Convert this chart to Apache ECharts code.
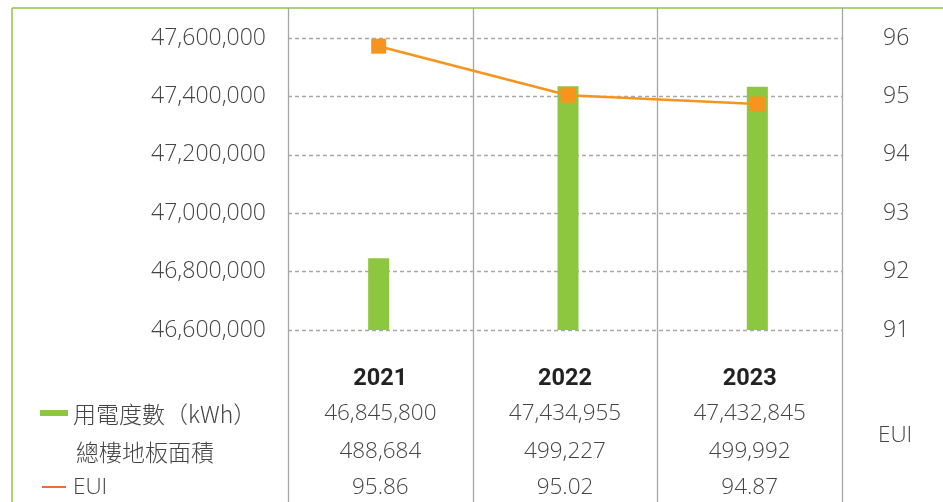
<!DOCTYPE html>
<html>
<head>
<meta charset="utf-8">
<script src="https://cdn.jsdelivr.net/npm/echarts@6/dist/echarts.min.js"></script>
<style>
  html, body { margin: 0; padding: 0; background: #fff; }
  #chart { width: 943px; height: 502px; }
</style>
</head>
<body>
<div id="chart"></div>
<script>
// Annual electricity use, floor area and EUI
const years = ['2021', '2022', '2023'];
const electricity = [46845800, 47434955, 47432845];   // kWh
const floorArea = [488684, 499227, 499992];
const eui = [95.86, 95.02, 94.87];

const leftTicks = { min: 46600000, max: 47600000, interval: 200000 };
const rightTicks = { min: 91, max: 96, interval: 1 };

const rowLabels = ['用電度數（kWh）', '總樓地板面積', 'EUI'];

const GREEN = '#8dc63f';
const ORANGE = '#f7941d';
const TEXT = '#444444';
const NUM_FONT = '"Open Sans", "Noto Sans", sans-serif';
const CJK_FONT = '"Noto Sans CJK TC", "Noto Sans", sans-serif';

const fmt = v => v.toLocaleString('en-US');

const chart = echarts.init(document.getElementById('chart'), null, { renderer: 'canvas' });

const hiddenCat = { type: 'category', data: years, show: false };

chart.setOption({
  animation: false,
  backgroundColor: '#ffffff',
  grid: [
    { left: 288, right: 101, top: 38, bottom: 172 },
    { left: 284, right: 91, top: 38, bottom: 172 }
  ],
  xAxis: [
    Object.assign({ gridIndex: 0 }, hiddenCat),
    Object.assign({ gridIndex: 1 }, hiddenCat)
  ],
  yAxis: [
    {
      gridIndex: 0, type: 'value', position: 'left',
      min: leftTicks.min, max: leftTicks.max, interval: leftTicks.interval,
      axisLine: { show: false }, axisTick: { show: false },
      axisLabel: {
        margin: 22, color: TEXT, fontSize: 23, fontFamily: NUM_FONT, fontWeight: 300,
        formatter: v => fmt(v)
      },
      splitLine: { show: true, lineStyle: { color: '#a8a8a8', type: [4, 3], width: 1.3 } }
    },
    {
      gridIndex: 0, type: 'value', position: 'right',
      min: rightTicks.min, max: rightTicks.max, interval: rightTicks.interval,
      axisLine: { show: false }, axisTick: { show: false },
      axisLabel: { margin: 41, color: TEXT, fontSize: 23, fontFamily: NUM_FONT, fontWeight: 300 },
      splitLine: { show: false }
    },
    {
      gridIndex: 1, type: 'value', show: false,
      min: leftTicks.min, max: leftTicks.max, interval: leftTicks.interval,
      splitLine: { show: false }
    },
    {
      gridIndex: 1, type: 'value', show: false,
      min: rightTicks.min, max: rightTicks.max, interval: rightTicks.interval,
      splitLine: { show: false }
    }
  ],
  series: [
    {
      name: '用電度數（kWh）', type: 'bar',
      xAxisIndex: 1, yAxisIndex: 2,
      data: electricity, barWidth: 21,
      itemStyle: { color: GREEN },
      z: 2
    },
    {
      name: 'EUI', type: 'line',
      xAxisIndex: 1, yAxisIndex: 3,
      data: eui,
      symbol: 'rect', symbolSize: 15,
      lineStyle: { color: ORANGE, width: 2.5 },
      itemStyle: { color: ORANGE },
      z: 5
    }
  ]
});

// Table frame, legend keys and table cells
const W = 943, H = 502;
const gridLeft = 288, gridRight = 842;
const colW = (gridRight - gridLeft) / years.length;
const graphics = [];

// outer green frame (top and left)
graphics.push({ type: 'line', shape: { x1: 12, y1: 8, x2: W, y2: 8 },
  style: { stroke: GREEN, lineWidth: 1.5 }, z: 1 });
graphics.push({ type: 'line', shape: { x1: 12, y1: 8, x2: 12, y2: H },
  style: { stroke: GREEN, lineWidth: 1.5 }, z: 1 });

// column separators
for (let i = 0; i <= years.length; i++) {
  const x = Math.round(gridLeft + i * colW) + 0.5;
  graphics.push({ type: 'line', shape: { x1: x, y1: 8, x2: x, y2: H },
    style: { stroke: '#a6a6a6', lineWidth: 1.3 }, z: 1 });
}

const rowY = [379, 414, 452, 488];
const cellFont = '300 22.5px ' + NUM_FONT;
years.forEach((yr, i) => {
  const cx = chart.convertToPixel({ xAxisIndex: 0 }, yr);
  graphics.push({ type: 'text', x: cx, y: rowY[0], z: 10,
    style: { text: yr, fill: '#222222', font: 'bold 23.5px Roboto, sans-serif',
      textAlign: 'center', textVerticalAlign: 'middle' } });
  graphics.push({ type: 'text', x: cx, y: rowY[1], z: 10,
    style: { text: fmt(electricity[i]), fill: TEXT, font: cellFont,
      textAlign: 'center', textVerticalAlign: 'middle' } });
  graphics.push({ type: 'text', x: cx, y: rowY[2], z: 10,
    style: { text: fmt(floorArea[i]), fill: TEXT, font: cellFont,
      textAlign: 'center', textVerticalAlign: 'middle' } });
  graphics.push({ type: 'text', x: cx, y: rowY[3], z: 10,
    style: { text: eui[i].toFixed(2), fill: TEXT, font: cellFont,
      textAlign: 'center', textVerticalAlign: 'middle' } });
});

// row headers with legend keys
graphics.push({ type: 'rect', shape: { x: 40, y: 410, width: 28, height: 6 },
  style: { fill: GREEN }, z: 10 });
graphics.push({ type: 'text', x: 73, y: rowY[1], z: 10,
  style: { text: rowLabels[0], fill: TEXT, font: '300 23px ' + CJK_FONT,
    textAlign: 'left', textVerticalAlign: 'middle' } });
graphics.push({ type: 'text', x: 76, y: rowY[2], z: 10,
  style: { text: rowLabels[1], fill: TEXT, font: '300 23px ' + CJK_FONT,
    textAlign: 'left', textVerticalAlign: 'middle' } });
graphics.push({ type: 'line', shape: { x1: 42, y1: 487, x2: 66, y2: 487 },
  style: { stroke: '#f26a36', lineWidth: 2 }, z: 10 });
graphics.push({ type: 'text', x: 73, y: rowY[3], z: 10,
  style: { text: rowLabels[2], fill: TEXT, font: cellFont,
    textAlign: 'left', textVerticalAlign: 'middle' } });

// right-side unit caption
graphics.push({ type: 'text', x: 878, y: 436, z: 10,
  style: { text: 'EUI', fill: TEXT, font: cellFont,
    textAlign: 'left', textVerticalAlign: 'middle' } });

chart.setOption({ graphic: graphics });
</script>
</body>
</html>
